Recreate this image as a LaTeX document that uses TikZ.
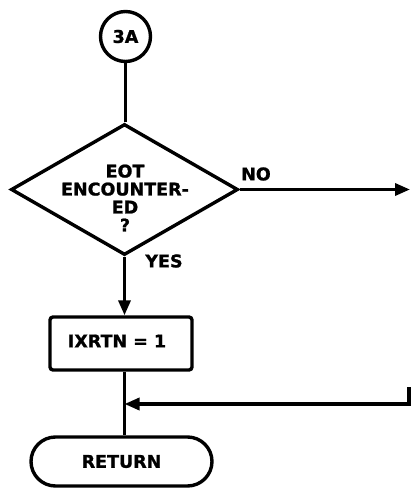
\documentclass[tikz,border=0pt]{standalone}
\usepackage{fontspec}
\setmainfont{DejaVu Sans}[BoldFeatures={FakeBold=1.2}]
\usetikzlibrary{arrows.meta,shapes.geometric,shapes.misc}
\begin{document}
\begin{tikzpicture}[x=1pt,y=-1pt,
  every node/.style={font=\fontsize{17.5}{18}\selectfont\bfseries},
  ln/.style={line width=3.4pt},
  arr/.style={ln,-{Triangle[length=15pt,width=12pt]}},
  conn/.style={ln,draw,circle,minimum size=50pt,inner sep=0pt},
  decis/.style={ln,draw,diamond,minimum width=227pt,minimum height=131pt,inner sep=0pt},
  procbox/.style={ln,draw,rectangle,rounded corners=3pt,minimum width=142pt,minimum height=53pt,inner sep=0pt},
  term/.style={ln,draw,rounded rectangle,minimum width=181pt,minimum height=49pt,inner sep=0pt},
  lbl/.style={inner sep=0pt}]
\useasboundingbox (0,0) rectangle (411,488);
\node[conn] (c3a) at (125.5,36.5) {3A};
\node[decis] (dec) at (124.5,189.5) {};
\node[lbl,align=center] (dtext) at (125,198) {EOT\\ENCOUNTER-\\ED\\?};
\node[procbox] (box) at (121,343.5) {};
\node[lbl] (boxtext) at (117,341) {IXRTN = 1};
\node[term] (ret) at (121.5,461.5) {RETURN};
\node[lbl] (no) at (256,174) {NO};
\node[lbl] (yes) at (164,261) {YES};
\coordinate (noend) at (410,189.5);
\coordinate (stubtop) at (409,387);
\coordinate (stubbot) at (409,404);
\draw[ln] (c3a.south) -- (c3a.south |- dec.north);
\draw[arr] (dec.east) -- (noend);
\draw[arr] (dec.south) -- (dec.south |- box.north);
\draw[ln] (box.south -| dec.south) -- (ret.north -| dec.south);
\draw[arr] (stubtop) -- (stubbot) -- (stubbot -| dec.south);
\end{tikzpicture}
\end{document}
